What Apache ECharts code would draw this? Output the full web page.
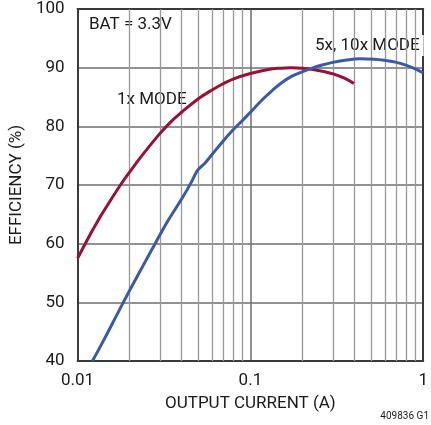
<!DOCTYPE html>
<html>
<head>
<meta charset="utf-8">
<script src="https://cdn.jsdelivr.net/npm/echarts@6/dist/echarts.min.js"></script>
<style>
html,body{margin:0;padding:0;background:#fff;}
#chart{width:431px;height:425px;}
</style>
</head>
<body>
<div id="chart"></div>
<script>
// ---- data ----
var redX  = [0.01, 0.012, 0.013, 0.014, 0.0177, 0.02, 0.024, 0.03, 0.035, 0.04, 0.05, 0.06, 0.07, 0.08, 0.1, 0.127, 0.15, 0.172, 0.2, 0.234, 0.27, 0.3, 0.35, 0.397];
var redY  = [57.5, 61.9, 63.7, 65.3, 70.0, 72.2, 75.3, 78.8, 80.9, 82.4, 84.7, 86.2, 87.3, 88.1, 89.0, 89.7, 89.92, 90.0, 89.92, 89.65, 89.3, 88.95, 88.2, 87.3];
var blueX = [0.0122, 0.0142, 0.0165, 0.0184, 0.0213, 0.0245, 0.0281, 0.033, 0.04, 0.0454, 0.0485, 0.0505, 0.0545, 0.06, 0.07, 0.08, 0.09, 0.1, 0.116, 0.135, 0.151, 0.175, 0.2, 0.224, 0.26, 0.3, 0.36, 0.43, 0.52, 0.614, 0.7, 0.8, 0.9, 1.0];
var blueY = [40.0, 43.6, 47.3, 50.0, 53.5, 56.8, 60.0, 63.7, 67.6, 70.4, 72.1, 72.8, 73.7, 75.2, 77.6, 79.5, 81.0, 82.4, 84.4, 86.2, 87.4, 88.6, 89.3, 89.85, 90.45, 90.9, 91.3, 91.5, 91.45, 91.2, 90.9, 90.4, 89.8, 89.1];
var xTickLabels = {'0.01':'0.01', '0.1':'0.1', '1':'1'};
var minorX = [0.02,0.03,0.04,0.05,0.06,0.07,0.08,0.09,0.2,0.3,0.4,0.5,0.6,0.7,0.8,0.9];
var seriesNames = ['1x MODE', '5x, 10x MODE'];
var noteText = 'BAT = 3.3V';
var xTitle = 'OUTPUT CURRENT (A)';
var yTitle = 'EFFICIENCY (%)';
var figId = '409836 G1';

function pairs(xs, ys){ return xs.map(function(x,i){ return [x, ys[i]]; }); }

var FONT = "Roboto, 'Liberation Sans', sans-serif";
var TXT = '#1a1a1a';
var FS = 17;

var chart = echarts.init(document.getElementById('chart'), null, {renderer:'canvas'});
var option = {
  animation: false,
  backgroundColor: '#fff',
  grid: {left: 77, top: 9, right: 3, bottom: 64, containLabel: false},
  xAxis: [{
    type: 'log', logBase: 10, min: 0.01, max: 1,
    name: xTitle, nameLocation: 'middle', nameGap: 34,
    nameTextStyle: {fontFamily: FONT, fontSize: FS, color: TXT},
    axisLine: {show: true, onZero: false, lineStyle: {color: '#3a3a3a', width: 2}},
    axisTick: {show: false},
    axisLabel: {fontFamily: FONT, fontSize: FS, color: TXT, margin: 11,
      formatter: function(v){ var k = String(+v.toPrecision(3)); return xTickLabels[k] !== undefined ? xTickLabels[k] : ''; }},
    splitLine: {show: true, showMinLine: false, showMaxLine: false, lineStyle: {color: '#6e6e6e', width: 1.5}},
    z: 0
  }, {
    type: 'log', logBase: 10, min: 0.01, max: 1, position: 'top',
    axisLine: {show: true, onZero: false, lineStyle: {color: '#3a3a3a', width: 2}},
    axisTick: {show: false}, axisLabel: {show: false}, splitLine: {show: false},
    z: 4
  }],
  yAxis: [{
    type: 'value', min: 40, max: 100, interval: 10,
    name: yTitle, nameLocation: 'middle', nameGap: 45,
    nameTextStyle: {fontFamily: FONT, fontSize: FS, color: TXT},
    axisLine: {show: true, onZero: false, lineStyle: {color: '#3a3a3a', width: 2}},
    axisTick: {show: false},
    axisLabel: {fontFamily: FONT, fontSize: FS, color: TXT, margin: 13},
    splitLine: {show: true, showMinLine: false, showMaxLine: false, lineStyle: {color: '#6e6e6e', width: 1.5}},
    z: 0
  }, {
    type: 'value', min: 40, max: 100, interval: 10, position: 'right',
    axisLine: {show: true, onZero: false, lineStyle: {color: '#3a3a3a', width: 2}},
    axisTick: {show: false}, axisLabel: {show: false}, splitLine: {show: false},
    z: 4
  }],
  series: [{
    type: 'line', data: [], xAxisIndex: 0, yAxisIndex: 0, z: 3, silent: true,
    markLine: {
      silent: true, symbol: ['none','none'], label: {show: false},
      lineStyle: {color: '#999', width: 1.3, type: 'solid'},
      emphasis: {disabled: true},
      data: minorX.map(function(v){ return {xAxis: v}; })
    }
  }, {
    name: seriesNames[0], type: 'line', data: pairs(redX, redY),
    xAxisIndex: 0, yAxisIndex: 0, z: 10,
    smooth: 0.4, symbol: 'none', lineStyle: {color: '#9a0f35', width: 3}
  }, {
    name: seriesNames[1], type: 'line', data: pairs(blueX, blueY),
    xAxisIndex: 0, yAxisIndex: 0, z: 10,
    smooth: 0.4, symbol: 'none', lineStyle: {color: '#3a5aa8', width: 3}
  }],
  graphic: {elements: [
    {type: 'text', z: 5, left: 79, top: 10,
     style: {text: noteText, font: FS + 'px ' + FONT, fill: TXT, backgroundColor: '#fff', padding: [6, 10, 6, 10]}},
    {type: 'text', z: 5, left: 113, top: 89,
     style: {text: seriesNames[0], font: FS + 'px ' + FONT, fill: TXT, backgroundColor: '#fff', padding: [2, 4, 2, 4]}},
    {type: 'text', z: 5, left: 311, top: 35,
     style: {text: seriesNames[1], font: FS + 'px ' + FONT, fill: TXT, backgroundColor: '#fff', padding: [2, 4, 2, 4]}},
    {type: 'text', z: 5, right: 2, top: 411,
     style: {text: figId, font: '10px ' + FONT, fill: TXT}}
  ]}
};
chart.setOption(option);
</script>
</body>
</html>
